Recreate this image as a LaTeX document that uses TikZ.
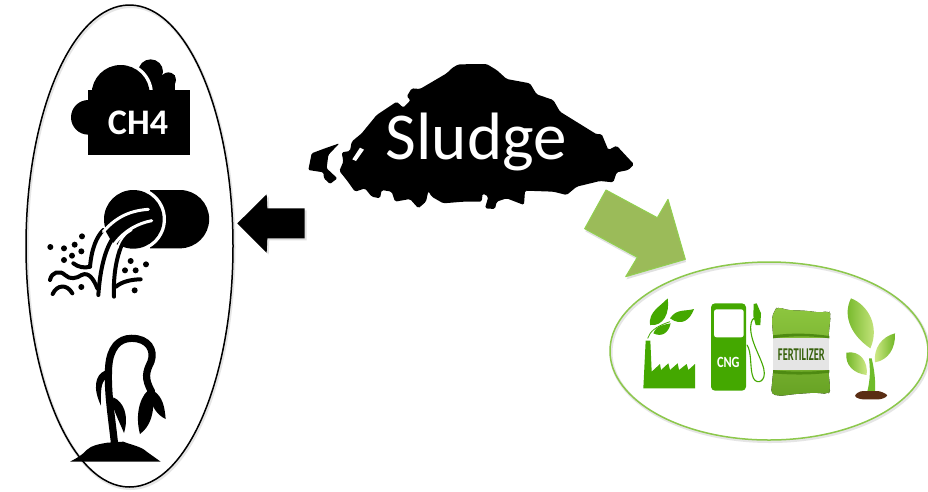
\documentclass[tikz,border=0pt]{standalone}
\usepackage{fontspec}
\setmainfont{Carlito}
\definecolor{arrowfill}{HTML}{9BBB59}
\definecolor{arrowedge}{HTML}{92D050}
\definecolor{ringgreen}{HTML}{8CC84B}
\definecolor{iconGreen}{HTML}{44A800}
\definecolor{bagLight}{HTML}{8DC63F}
\definecolor{bagDark}{HTML}{4E8A12}
\definecolor{leafLight}{HTML}{D4EC8C}
\definecolor{leafDark}{HTML}{6DB422}
\definecolor{soil}{HTML}{5A2D14}
\tikzset{
  zoomed/.style 2 args={shift={(#1,#2)},x=.33333pt,y=-.33333pt},
  inkline/.style={draw=black,line width=4pt,line cap=round,line join=round},
  cutline/.style={draw=white,line width=3pt,line cap=round},
  halo/.style={draw=black!10,line width=3pt},
  leaf/.style={draw=none,left color=leafDark,right color=leafLight},
}
\begin{document}
\begin{tikzpicture}[x=1pt,y=-1pt]
\useasboundingbox (0,0) rectangle (928,491);
\fill[white] (0,0) rectangle (928,491);
% ellipses
\draw[halo] (130.5,247.5) ellipse [x radius=103.5,y radius=241];
\draw[black,line width=1.5pt] (129.5,246) ellipse [x radius=103.5,y radius=241];
\draw[halo] (770,352.5) ellipse [x radius=159,y radius=89];
\draw[ringgreen,line width=1.5pt] (769,351) ellipse [x radius=159,y radius=89];
% CH4 cloud
\begin{scope}[zoomed={20}{0}]
  \fill[black] (392,215) circle [radius=37];
  \fill[black] (445,240) circle [radius=23];
  \fill[black] (365,225) rectangle (464,275);
  \fill[white] (302,282) circle [radius=97];
  \fill[black] (302,282) circle [radius=87];
  \fill[black] (205,352) circle [radius=52];
  \fill[black] (204,270) rectangle (510,465);
  \node[text=white,font=\bfseries\fontsize{36}{36}\selectfont] (ch4) at (354,367) {CH4};
\end{scope}
% pipe
\begin{scope}[zoomed={40}{180}]
  \fill[black] (330,30) -- (420,30) arc [start angle=-90,end angle=90,radius=87.5] -- (330,205) -- cycle;
  \fill[white] (280,118) circle [radius=98];
  \fill[black] (280,118) circle [radius=88];
  \draw[inkline] (190,150) .. controls (170,170) and (155,205) .. (150,260);
  \draw[inkline] (222,170) .. controls (195,205) and (180,270) .. (175,345);
  \draw[inkline] (245,195) .. controls (225,245) and (220,300) .. (222,350);
  \fill[black] (195,150) -- (240,100) -- (290,150) -- (245,200) -- (215,185) -- cycle;
  \draw[cutline] (325,88) .. controls (265,92) and (225,115) .. (190,155);
  \draw[cutline] (335,122) .. controls (295,130) and (255,150) .. (225,190);
  \draw[cutline,line width=2pt] (275,150) .. controls (255,160) and (240,180) .. (232,205);
  \draw[inkline] (100,250) .. controls (115,262) and (135,265) .. (150,260);
  \draw[inkline] (30,300) .. controls (35,275) and (60,270) .. (75,285) .. controls (90,300) and (110,295) .. (125,285) .. controls (145,275) and (160,295) .. (172,325);
  \draw[inkline] (38,342) .. controls (50,315) and (80,310) .. (97,340);
  \draw[inkline] (228,320) .. controls (245,305) and (275,298) .. (302,298);
  \foreach \dx/\dy in {31/201,72/205,104/194,126/169,124/214,96/227,72/240,272/243,318/253,255/271,287/271,284/331,124/321}
    \fill[black] (\dx,\dy) circle [radius=9];
\end{scope}
% drooping plant
\begin{scope}[zoomed={20}{250}]
  \fill[black] (150,635) .. controls (175,622) and (190,612) .. (200,600) .. controls (215,585) and (240,582) .. (262,578) -- (310,575) .. controls (335,585) and (365,590) .. (380,605) -- (422,635) -- cycle;
  \draw[black,line width=7.2pt,line cap=round] (283,575) .. controls (272,480) and (262,420) .. (266,350) .. controls (270,295) and (295,265) .. (335,265) .. controls (385,265) and (405,300) .. (393,335) .. controls (378,365) and (372,385) .. (395,425);
  \fill[black] (385,420) .. controls (352,450) and (348,510) .. (360,552) .. controls (390,530) and (405,490) .. (398,435) -- cycle;
  \fill[black] (400,422) .. controls (428,440) and (434,470) .. (437,507) .. controls (415,497) and (392,470) .. (392,440) -- cycle;
  \fill[black] (255,362) .. controls (225,375) and (218,415) .. (243,467) .. controls (242,425) and (242,395) .. (260,385) -- cycle;
  \fill[black] (280,442) .. controls (310,455) and (328,495) .. (312,549) .. controls (300,520) and (285,490) .. (278,465) -- cycle;
\end{scope}
% left arrow
\begin{scope}[zoomed={230}{185}]
  \fill[black!12] (30,121) -- (116,34) -- (118,76) -- (230,76) -- (230,166) -- (118,166) -- (116,209) -- cycle;
  \fill[black] (22,115) -- (110,28) -- (112,70) -- (224,70) -- (224,160) -- (112,160) -- (110,203) -- cycle;
\end{scope}
% sludge
\begin{scope}[zoomed={300}{55}]
  \fill[black,rounded corners=1.6pt] (455,40) -- (475,28) -- (560,27) -- (590,45) -- (620,72) -- (690,85) -- (710,118) -- (760,135) -- (780,170) -- (890,238) -- (905,237) -- (925,285) -- (950,272) -- (1002,328) -- (985,345) -- (950,352) -- (940,382) -- (900,378) -- (830,395) -- (800,420) -- (760,410) -- (675,407) -- (672,450) -- (620,430) -- (590,440) -- (585,462) -- (555,460) -- (565,425) -- (548,415) -- (545,440) -- (490,440) -- (430,445) -- (395,425) -- (385,408) -- (378,440) -- (355,460) -- (330,432) -- (285,440) -- (275,410) -- (245,405) -- (240,430) -- (215,425) -- (195,400) -- (165,410) -- (140,375) -- (118,348) -- (130,320) -- (125,292) -- (150,288) -- (155,260) -- (185,235) -- (230,180) -- (290,140) -- (310,158) -- (332,135) -- (320,125) -- (335,100) -- (360,102) -- (440,55) -- cycle;
  \fill[white] (157,313) -- (180,278) -- (192,284) -- (168,318) -- cycle;
  \fill[black,rounded corners=1.2pt] (25,345) -- (35,295) -- (75,280) -- (118,265) -- (85,300) -- (80,340) -- (112,370) -- (90,387) -- (72,370) -- (70,352) -- cycle;
  \node[text=white,font=\fontsize{67}{67}\selectfont] (sludge) at (529,262) {Sludge};
\end{scope}
% green arrow
\begin{scope}[zoomed={570}{180}]
  \fill[black!12] (110,38) -- (264,121) -- (296,66) -- (348,246) -- (169,298) -- (204,240) -- (46,154) -- cycle;
  \fill[arrowfill,draw=arrowedge,line width=1pt,line join=round] (108,30) -- (262,113) -- (294,58) -- (346,238) -- (167,290) -- (202,232) -- (44,146) -- cycle;
\end{scope}
% factory and pump
\begin{scope}[zoomed={635}{290}]
  \fill[iconGreen] (25,295) -- (32,152) -- (46,152) -- (50,245) -- (75,222) -- (78,240) -- (100,220) -- (105,240) -- (128,220) -- (132,240) -- (155,222) -- (160,240) -- (180,222) -- (180,295) -- cycle;
  \fill[iconGreen] (45,105) .. controls (40,65) and (75,50) .. (98,25) .. controls (105,70) and (85,110) .. (45,105) -- cycle;
  \fill[iconGreen] (105,85) .. controls (125,55) and (150,65) .. (177,57) .. controls (165,90) and (140,110) .. (105,85) -- cycle;
  \fill[iconGreen] (55,130) .. controls (65,105) and (85,105) .. (107,100) .. controls (100,130) and (80,142) .. (55,130) -- cycle;
  \draw[iconGreen,line width=.8pt] (38,145) .. controls (45,125) and (60,110) .. (105,95);
  \fill[iconGreen,rounded corners=4pt] (228,40) rectangle (333,302);
  \fill[white,rounded corners=2.5pt] (237,58) rectangle (326,142);
  \node[text=white,font=\bfseries\fontsize{13}{13}\selectfont,xscale=.95,yscale=1.2] (cng) at (280,218) {CNG};
  \draw[iconGreen,line width=1.1pt,line cap=round] (336,165) .. controls (350,185) and (345,230) .. (352,255) .. controls (358,285) and (388,280) .. (388,250) .. controls (388,215) and (345,160) .. (347,110) .. controls (348,90) and (355,85) .. (362,80);
  \fill[iconGreen] (356,42) -- (365,40) -- (378,70) -- (376,105) -- (362,105) -- (355,78) -- cycle;
\end{scope}
% fertilizer bag and seedling
\begin{scope}[zoomed={765}{290}]
  \fill[bottom color=bagDark!60!bagLight,top color=bagLight,rounded corners=4pt] (28,62) -- (38,50) -- (65,60) -- (120,62) -- (170,68) -- (192,62) -- (197,75) -- (190,145) -- (190,240) -- (196,300) -- (190,312) -- (150,308) -- (90,312) -- (45,318) -- (18,312) -- (25,240) -- (25,145) -- (20,85) -- cycle;
  \fill[white!90!black] (23,145) rectangle (193,240);
  \fill[bagDark] (24,136) .. controls (80,128) and (140,130) .. (193,138) -- (193,145) .. controls (140,137) and (80,137) .. (24,145) -- cycle;
  \fill[bagDark] (24,240) .. controls (80,247) and (140,247) .. (193,240) -- (193,248) .. controls (140,255) and (80,255) .. (24,250) -- cycle;
  \node[text=bagDark!70!black,font=\bfseries\fontsize{18}{18}\selectfont,xscale=.58] (fert) at (109,193) {FERTILIZER};
  \fill[iconGreen!70!leafLight] (320,205) .. controls (328,240) and (332,270) .. (330,308) -- (306,308) .. controls (316,270) and (316,240) .. (312,205) -- cycle;
  \fill[soil,rounded corners=3pt] (266,318) -- (285,303) -- (345,303) -- (371,316) -- (350,328) -- (285,328) -- cycle;
  \shade[leaf] (316,175) .. controls (250,130) and (235,70) .. (258,25) .. controls (310,45) and (345,110) .. (316,175) -- cycle;
  \shade[leaf,left color=leafLight,right color=leafDark] (330,217) .. controls (325,175) and (350,140) .. (390,130) .. controls (392,175) and (370,210) .. (330,217) -- cycle;
  \shade[leaf] (305,255) .. controls (265,250) and (240,225) .. (244,188) .. controls (285,180) and (310,215) .. (305,255) -- cycle;
\end{scope}
\end{tikzpicture}
\end{document}
